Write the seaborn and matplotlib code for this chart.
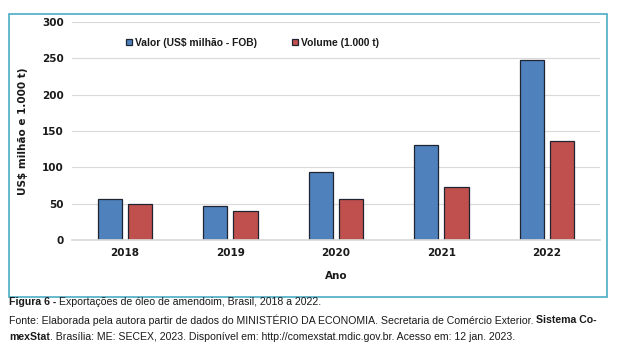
import matplotlib
matplotlib.use("Agg")
import matplotlib.pyplot as plt
import pandas as pd
import seaborn as sns
from matplotlib.patches import Rectangle

anos = ["2018", "2019", "2020", "2021", "2022"]
valor = [56.5, 47, 94, 130, 248]
volume = [50, 39.5, 57, 73.5, 136.5]
serie_valor = "Valor (US$ milhão - FOB)"
serie_volume = "Volume (1.000 t)"

df = pd.DataFrame({
    "ano": anos * 2,
    "valor": valor + volume,
    "serie": [serie_valor] * len(anos) + [serie_volume] * len(anos),
})

sns.set_theme(style="white")
plt.rcParams["font.family"] = ["DejaVu Sans"]
plt.rcParams["text.color"] = "#1a1a1a"
plt.rcParams["axes.labelcolor"] = "#1a1a1a"
plt.rcParams["xtick.color"] = "#1a1a1a"
plt.rcParams["ytick.color"] = "#1a1a1a"

fig = plt.figure(figsize=(6.17, 3.52), dpi=100)
ax = fig.add_axes([0.117, 0.318, 0.855, 0.62])

sns.barplot(data=df, x="ano", y="valor", hue="serie",
            palette=["#4f81bd", "#c0504d"], saturation=1, width=0.57, gap=0.2,
            edgecolor="#1f2530", linewidth=0.9, ax=ax)

ax.set_ylim(0, 300)
ax.set_yticks([0, 50, 100, 150, 200, 250, 300])
ax.yaxis.grid(True, color="#d9d9d9", linewidth=0.8)
ax.set_axisbelow(True)
for s in ["top", "right", "left"]:
    ax.spines[s].set_visible(False)
ax.spines["bottom"].set_color("#d9d9d9")
ax.tick_params(axis="both", length=0, labelsize=7.5, pad=6)
for lab in ax.get_xticklabels() + ax.get_yticklabels():
    lab.set_fontweight("bold")
ax.set_xlabel("Ano", fontsize=7.5, fontweight="bold", labelpad=9)
ax.set_ylabel("US$ milhão e 1.000 t)", fontsize=7.5, fontweight="bold", labelpad=10)

leg = ax.legend(loc="upper left", bbox_to_anchor=(0.085, 0.97), ncol=2, frameon=False,
                handlelength=0.6, handleheight=0.6, handletextpad=0.25, columnspacing=3.4,
                prop={"size": 7.4, "weight": "bold", "family": "Liberation Sans"})

# moldura
fig.patches.append(Rectangle((9 / 617, 1 - 297 / 352), 598 / 617, 283 / 352,
                             transform=fig.transFigure, fill=False,
                             edgecolor="#4bacc6", linewidth=1.2))

renderer = fig.canvas.get_renderer()


def linha(y, partes, x0=9 / 617, size=7.6):
    x = x0
    for texto, peso in partes:
        t = fig.text(x, y, texto, fontsize=size, fontweight=peso, va="center", ha="left",
                     family=["Liberation Sans", "DejaVu Sans"])
        bb = t.get_window_extent(renderer=renderer)
        x += bb.width / fig.bbox.width


linha(1 - 302 / 352, [("Figura 6 - ", "bold"),
                      ("Exportações de óleo de amendoim, Brasil, 2018 a 2022.", "normal")])
linha(1 - 320 / 352, [("Fonte: Elaborada pela autora partir de dados do MINISTÉRIO DA ECONOMIA. Secretaria de Comércio Exterior. ", "normal"),
                      ("Sistema Co-", "bold")])
linha(1 - 337 / 352, [("mexStat", "bold"),
                      (". Brasília: ME: SECEX, 2023. Disponível em: http://comexstat.mdic.gov.br. Acesso em: 12 jan. 2023.", "normal")])

fig.savefig("out.png", dpi=100)
